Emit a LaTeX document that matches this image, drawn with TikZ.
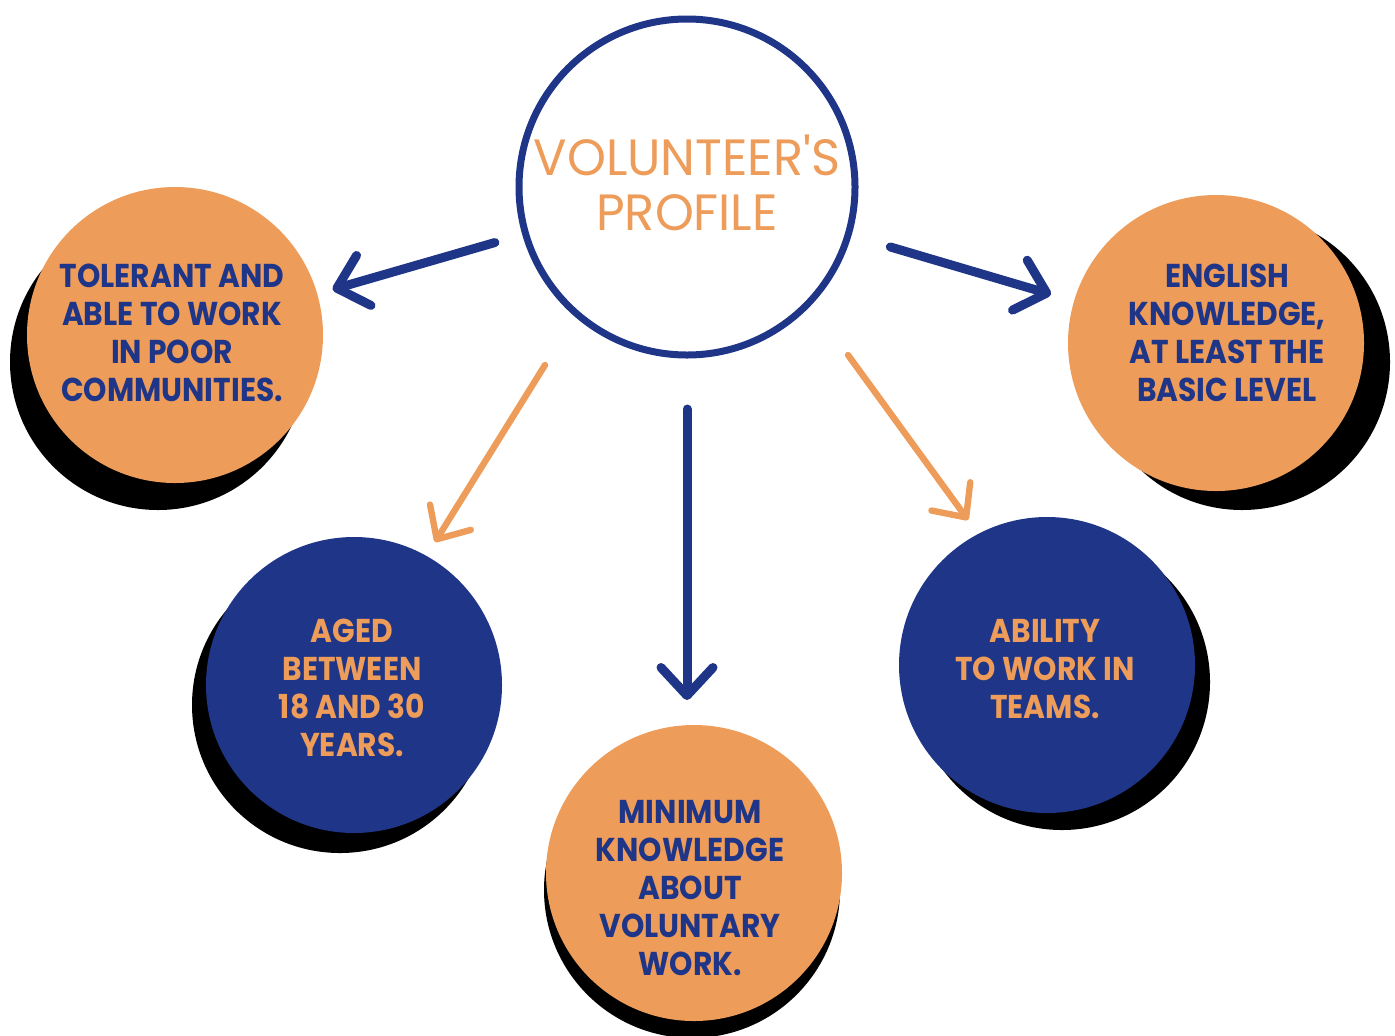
\documentclass[tikz,border=0pt]{standalone}
\usepackage{fontspec}
\usetikzlibrary{arrows.meta,calc}
\setmainfont{Poppins}
\newfontfamily\bodyfont{Poppins}[FakeStretch=0.9]
\newfontfamily\titlefont{Poppins}[FakeStretch=0.97]
\definecolor{navy}{HTML}{1F3587}
\definecolor{peach}{HTML}{ED9C5A}
\tikzset{
  bubble/.style={circle, minimum size=148pt, inner sep=0pt, outer sep=0pt},
  peachbubble/.style={bubble, fill=peach},
  navybubble/.style={bubble, fill=navy},
  shadowdisc/.style={fill=black},
  label on peach/.style={align=center, text=navy, font=\bodyfont\bfseries\fontsize{16.5}{19}\selectfont},
  label on navy/.style={align=center, text=peach, font=\bodyfont\bfseries\fontsize{16.5}{19}\selectfont},
  navyarrow/.style={draw=navy, line width=4.5pt, line cap=round, -{Straight Barb[length=14pt,width=26pt,round]}},
  peacharrow/.style={draw=peach, line width=3.2pt, line cap=round, -{Straight Barb[length=13pt,width=24pt,round]}},
}
\begin{document}
\begin{tikzpicture}[x=0.5pt,y=-0.5pt]
\useasboundingbox (0,0) rectangle (1395,1035);
% shadows
\fill[shadowdisc] (158,362) circle[radius=74pt];
\fill[shadowdisc] (1242,362) circle[radius=74pt];
\fill[shadowdisc] (340,705) circle[radius=74pt];
\fill[shadowdisc] (692,890) circle[radius=74pt];
\fill[shadowdisc] (1062,682) circle[radius=74pt];
% bubbles
\node[peachbubble] (tl) at (175,335) {};
\node[peachbubble] (tr) at (1216,343) {};
\node[navybubble] (ml) at (354,685) {};
\node[peachbubble] (bot) at (694,873) {};
\node[navybubble] (mr) at (1047,665) {};
% centre
\node[circle, draw=navy, fill=white, line width=3.5pt, minimum size=168pt, inner sep=0pt, outer sep=0pt] (c) at (687,187) {};
\node[text=peach, align=center, font=\titlefont\fontsize{25.5}{27.5}\selectfont] (title) at (687,183) {VOLUNTEER'S\\PROFILE};
% labels
\node[label on peach] (tltext) at (172,333) {TOLERANT AND\\ABLE TO WORK\\IN POOR\\COMMUNITIES.};
\node[label on peach] (trtext) at (1227,333) {ENGLISH\\KNOWLEDGE,\\AT LEAST THE\\BASIC LEVEL};
\node[label on navy] (mltext) at (352,688) {AGED\\BETWEEN\\18 AND 30\\YEARS.};
\node[label on peach] (bottext) at (690,888) {MINIMUM\\KNOWLEDGE\\ABOUT\\VOLUNTARY\\WORK.};
\node[label on navy] (mrtext) at (1045,669) {ABILITY\\TO WORK IN\\TEAMS.};
% connectors
\draw[navyarrow, shorten <=16pt, shorten >=8pt] (c) -- (tl);
\draw[navyarrow, shorten <=22pt, shorten >=12pt] (c) -- (tr);
\draw[navyarrow, shorten <=27pt, shorten >=86.5pt] (c) -- (c |- bot);
\coordinate (olS) at (545,365);
\coordinate (olE) at (435,542);
\coordinate (orS) at (848,355);
\coordinate (orE) at (968,520);
\draw[peacharrow] (olS) -- (olE);
\draw[peacharrow] (orS) -- (orE);
\end{tikzpicture}
\end{document}
